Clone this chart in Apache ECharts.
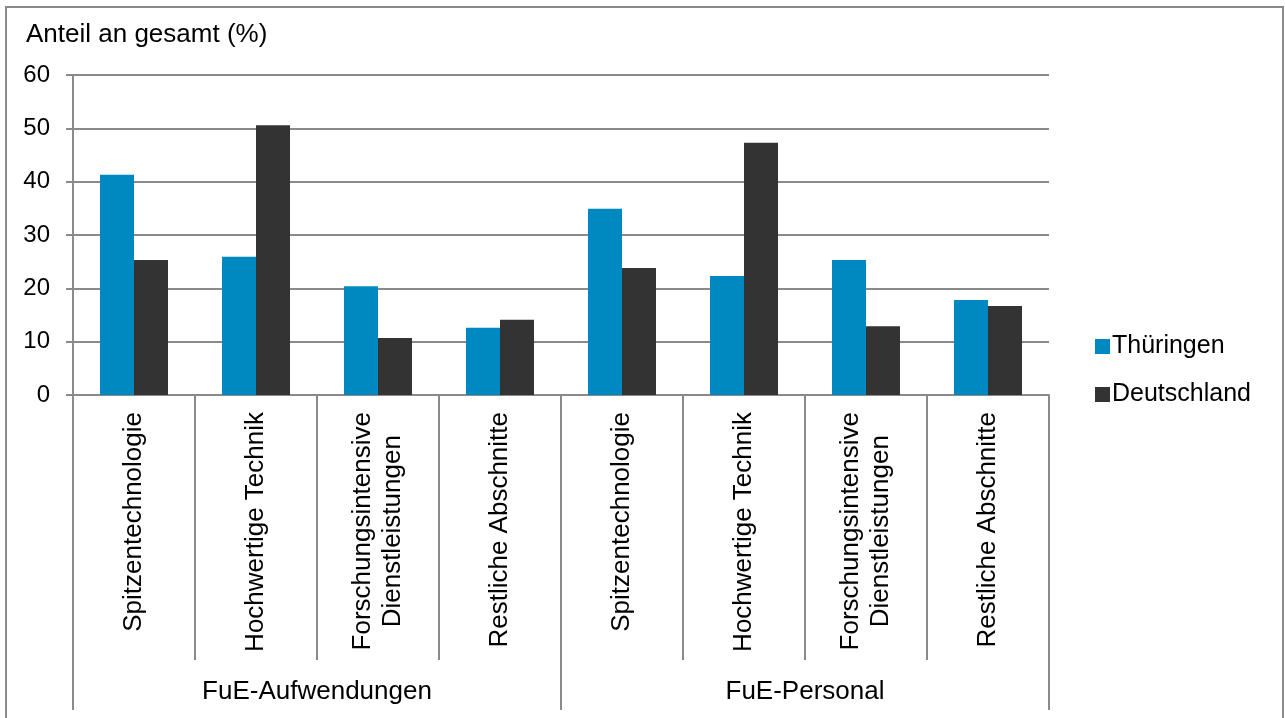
<!DOCTYPE html>
<html>
<head>
<meta charset="utf-8">
<script src="https://cdn.jsdelivr.net/npm/echarts@6/dist/echarts.min.js"></script>
<style>
  html, body { margin: 0; padding: 0; background: #fff; }
  #chart { width: 1285px; height: 718px; }
</style>
</head>
<body>
<div id="chart"></div>
<script>
const categories = [
  'Spitzentechnologie', 'Hochwertige Technik', 'Forschungsintensive\nDienstleistungen', 'Restliche Abschnitte',
  'Spitzentechnologie', 'Hochwertige Technik', 'Forschungsintensive\nDienstleistungen', 'Restliche Abschnitte'
];
const groups = ['FuE-Aufwendungen', 'FuE-Personal'];
const seriesNames = ['Thüringen', 'Deutschland'];
const thueringen = [41.3, 25.9, 20.4, 12.6, 34.9, 22.3, 25.3, 17.8];
const deutschland = [25.3, 50.6, 10.7, 14.1, 23.8, 47.3, 12.9, 16.7];
const yTitle = 'Anteil an gesamt (%)';

const FONT = '"Liberation Sans", Arial, sans-serif';
const GRAY = '#8a8a8a';

const chart = echarts.init(document.getElementById('chart'));
chart.setOption({
  animation: false,
  backgroundColor: '#fff',
  textStyle: { fontFamily: FONT },
  graphic: [{
    type: 'rect', silent: true, z: -1,
    shape: { x: 6, y: 7, width: 1277, height: 720 },
    style: { fill: 'none', stroke: GRAY, lineWidth: 2 }
  }],
  title: {
    text: yTitle, left: 21, top: 17,
    textStyle: { fontFamily: FONT, fontSize: 26, fontWeight: 'normal', color: '#000' }
  },
  legend: {
    orient: 'vertical', left: 1090, top: 329,
    icon: 'rect', itemWidth: 15, itemHeight: 15, itemGap: 23,
    textStyle: { fontFamily: FONT, fontSize: 25, color: '#000', padding: [0, 0, 0, -3], lineHeight: 25 },
    data: seriesNames
  },
  grid: { left: 73, right: 236, top: 75, bottom: 323, containLabel: false },
  xAxis: [{
    type: 'category', position: 'bottom', data: categories,
    axisLine: { show: true, lineStyle: { color: GRAY, width: 2 } },
    axisTick: { show: true, interval: 0, length: 265, lineStyle: { color: GRAY, width: 2 } },
    axisLabel: {
      interval: 0, rotate: 90, margin: 17,
      formatter: v => v.split('\n').map(s => '{c|' + s + '}').join('\n'),
      rich: { c: { align: 'center', fontFamily: FONT, fontSize: 26, lineHeight: 30, color: '#000' } }
    }
  }, {
    type: 'category', position: 'bottom', data: groups, offset: 0,
    axisLine: { show: false },
    axisTick: { show: true, interval: 0, length: 315, lineStyle: { color: GRAY, width: 2 } },
    axisLabel: { interval: 0, margin: 284, fontFamily: FONT, fontSize: 26, color: '#000' }
  }],
  yAxis: {
    type: 'value', min: 0, max: 60, interval: 10,
    axisLine: { show: true, lineStyle: { color: GRAY, width: 2 } },
    axisTick: { show: true, length: 7, lineStyle: { color: GRAY, width: 2 } },
    axisLabel: { margin: 23, fontFamily: FONT, fontSize: 24, color: '#000' },
    splitLine: { show: true, lineStyle: { color: GRAY, width: 2 } }
  },
  series: [{
    name: seriesNames[0], type: 'bar', data: thueringen, barWidth: 34, barGap: '0%',
    itemStyle: { color: '#0088c0' }
  }, {
    name: seriesNames[1], type: 'bar', data: deutschland, barWidth: 34, barGap: '0%',
    itemStyle: { color: '#333333' }
  }]
});
</script>
</body>
</html>
